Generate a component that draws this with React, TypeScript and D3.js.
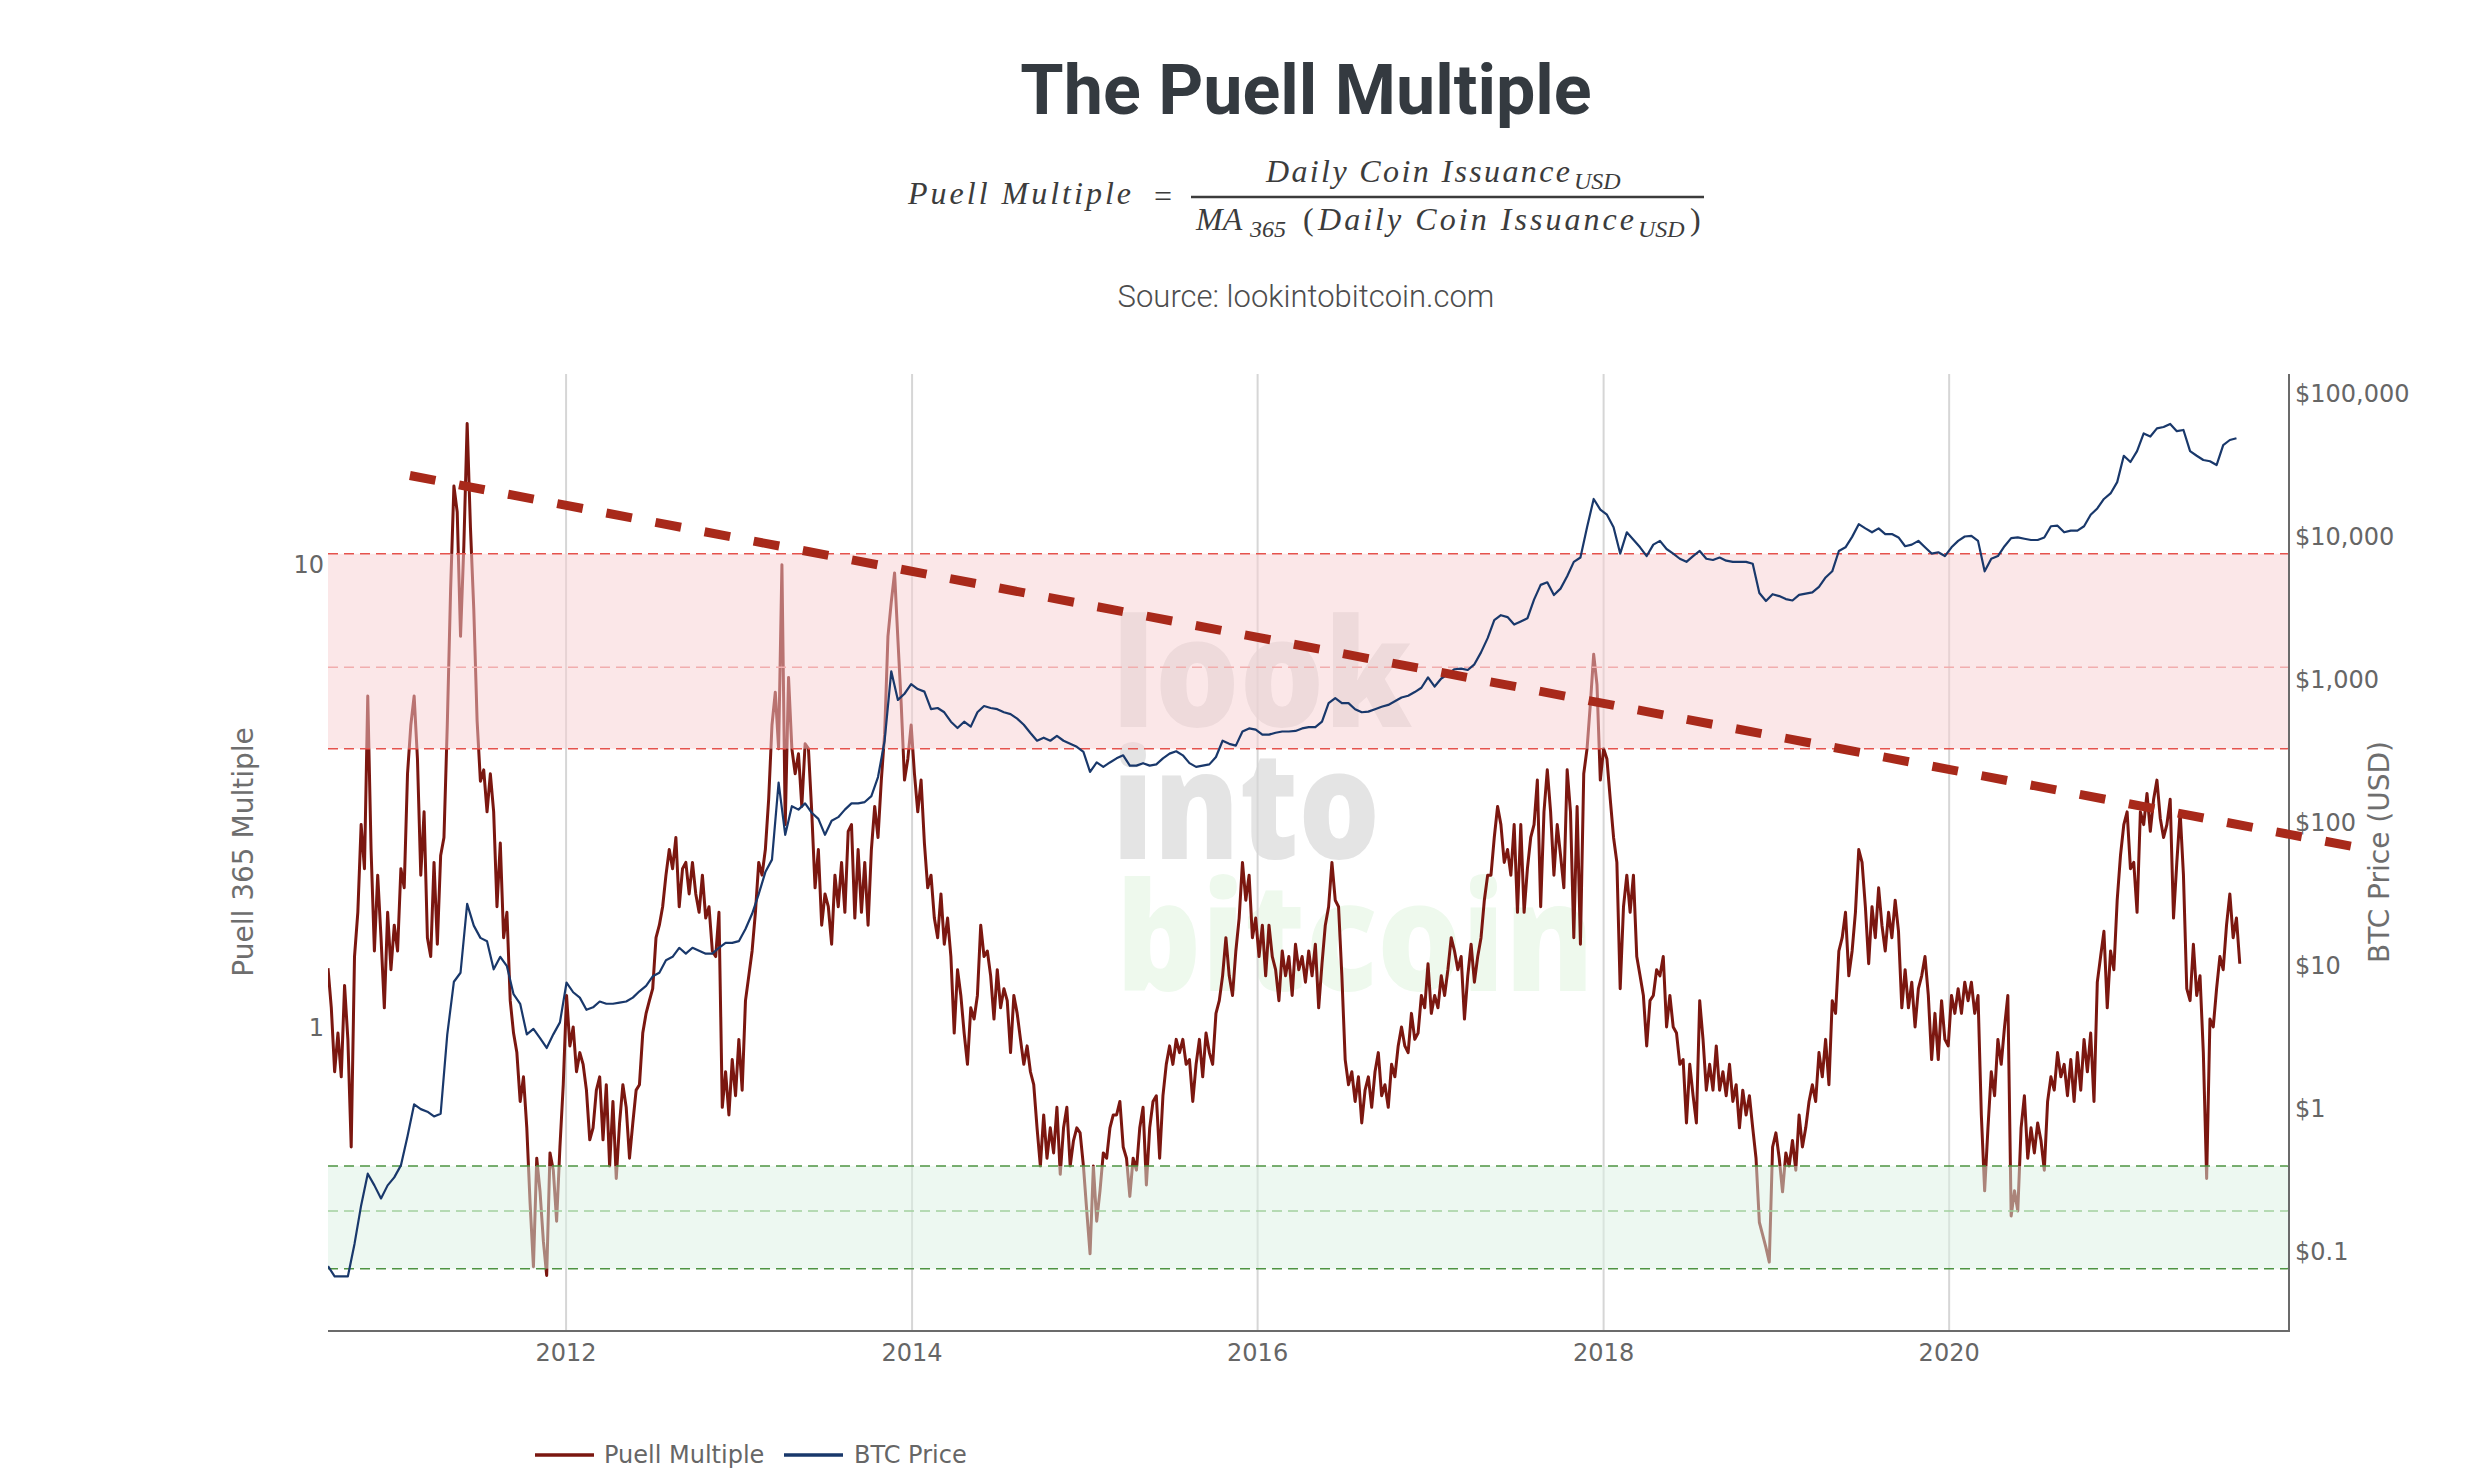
import React from "react";
import * as d3 from "d3";

// ---------------- data ----------------
const seriesStartDate = "2010-08-16";
const puellStepDays = 7; // weekly samples
const priceStepDays = 14; // bi-weekly samples

const puell2010to2013 = [
  1.34, 1.1, 0.8, 0.97, 0.78, 1.23, 0.94, 0.55, 1.42, 1.77,
  2.74, 2.2, 5.2, 2.42, 1.46, 2.13, 1.56, 1.1, 1.77, 1.33,
  1.66, 1.46, 2.2, 2.0, 3.53, 4.5, 5.2, 3.8, 2.13, 2.92,
  1.56, 1.42, 2.27, 1.51, 2.35, 2.57, 4.5, 8.8, 14.8, 13.0,
  7.0, 11.0, 20.2, 12.0, 8.0, 4.6, 3.4, 3.6, 2.92, 3.53,
  2.92, 1.82, 2.5, 1.56, 1.77, 1.14, 0.97, 0.88, 0.69, 0.78,
  0.605, 0.415, 0.303, 0.52, 0.44, 0.344, 0.29, 0.534, 0.49, 0.38,
  0.55, 0.75, 1.17, 0.91, 1.0, 0.8, 0.88, 0.83, 0.73, 0.57,
  0.605, 0.73, 0.78, 0.57, 0.75, 0.5, 0.69, 0.47, 0.62, 0.75,
  0.67, 0.52, 0.62, 0.73, 0.75, 0.97, 1.07, 1.14, 1.21, 1.56,
  1.66, 1.82, 2.13, 2.42, 2.2, 2.57, 1.82, 2.2, 2.27, 1.94,
  2.27, 1.94, 1.77, 2.13, 1.72, 1.82, 1.46, 1.42,
];
const puell2013to2015 = [
  1.77, 0.67, 0.8, 0.645, 0.85, 0.71, 0.94, 0.73, 1.14, 1.29,
  1.46, 1.77, 2.27, 2.13, 2.42, 3.11, 4.5, 5.3, 4.0, 10.0,
  2.74, 5.7, 4.0, 3.53, 3.9, 3.0, 4.1, 4.0, 2.92, 2.0,
  2.42, 1.66, 1.94, 1.82, 1.51, 2.13, 1.82, 2.27, 1.77, 2.65,
  2.74, 1.72, 2.42, 1.77, 2.27, 1.66, 2.42, 3.0, 2.57, 3.42,
  4.3, 7.0, 8.3, 9.6, 6.9, 5.0, 3.42, 3.8, 4.5, 3.53,
  2.92, 3.42, 2.5, 2.0, 2.13, 1.72, 1.56, 1.94, 1.51, 1.72,
  1.42, 0.97, 1.33, 1.17, 0.97, 0.83, 1.1, 1.04, 1.17, 1.66,
  1.42, 1.46, 1.29, 1.04, 1.33, 1.1, 1.21, 1.14, 0.88, 1.17,
  1.07, 0.94, 0.83, 0.91, 0.8, 0.75, 0.605, 0.5, 0.645, 0.52,
  0.605, 0.534, 0.67, 0.48, 0.605, 0.67, 0.5, 0.568, 0.605, 0.59,
  0.5, 0.4, 0.323, 0.5, 0.38, 0.442, 0.534, 0.52, 0.605, 0.645,
];
const puell2015to2017 = [
  0.645, 0.69, 0.55, 0.52, 0.43, 0.52, 0.49, 0.605, 0.67, 0.455,
  0.605, 0.69, 0.71, 0.52, 0.71, 0.83, 0.91, 0.83, 0.94, 0.88,
  0.94, 0.83, 0.85, 0.69, 0.83, 0.94, 0.78, 0.97, 0.88, 0.83,
  1.07, 1.14, 1.29, 1.56, 1.29, 1.17, 1.46, 1.72, 2.27, 1.88,
  2.13, 1.56, 1.72, 1.42, 1.66, 1.29, 1.66, 1.42, 1.33, 1.14,
  1.46, 1.29, 1.42, 1.17, 1.51, 1.33, 1.42, 1.25, 1.46, 1.29,
  1.51, 1.1, 1.37, 1.66, 1.82, 2.27, 1.88, 1.82, 1.29, 0.85,
  0.75, 0.8, 0.69, 0.78, 0.62, 0.73, 0.78, 0.67, 0.8, 0.88,
  0.71, 0.75, 0.67, 0.83, 0.78, 0.91, 1.0, 0.91, 0.88, 1.07,
  0.94, 0.97, 1.17, 1.1, 1.37, 1.07, 1.17, 1.1, 1.29, 1.17,
  1.33, 1.56, 1.46, 1.33, 1.42, 1.04, 1.29, 1.51, 1.25, 1.42,
  1.56, 1.88, 2.13, 2.13, 2.57, 3.0, 2.74, 2.27, 2.42, 2.13,
  2.74, 1.77,
];
const puell2017to2019 = [
  2.74, 1.77, 2.2, 2.57, 2.74, 3.42, 1.82, 2.92, 3.6, 2.92,
  2.13, 2.74, 2.35, 2.0, 3.6, 2.92, 1.56, 3.0, 1.51, 3.53,
  4.0, 5.0, 6.4, 5.5, 3.42, 4.0, 3.8, 3.11, 2.57, 2.27,
  1.21, 1.82, 2.13, 1.77, 2.13, 1.42, 1.29, 1.17, 0.91, 1.14,
  1.17, 1.33, 1.29, 1.42, 1.0, 1.17, 1.0, 0.97, 0.83, 0.85,
  0.62, 0.83, 0.71, 0.62, 1.14, 0.94, 0.73, 0.83, 0.73, 0.91,
  0.73, 0.8, 0.71, 0.83, 0.69, 0.75, 0.605, 0.73, 0.645, 0.71,
  0.605, 0.52, 0.378, 0.355, 0.333, 0.31, 0.55, 0.59, 0.52, 0.44,
  0.534, 0.5, 0.568, 0.49, 0.645, 0.55, 0.605, 0.69, 0.75, 0.69,
  0.88, 0.78, 0.94, 0.75, 1.14, 1.07, 1.46, 1.56, 1.77, 1.29,
  1.46, 1.77, 2.42, 2.27, 1.82, 1.37, 1.82, 1.56, 2.0, 1.66,
  1.46, 1.77, 1.56, 1.88, 1.61, 1.1, 1.33, 1.1, 1.25, 1.0,
];
const puell2019to2021 = [
  1.21, 1.29, 1.42, 1.17, 0.85, 1.07, 0.85, 1.14, 0.94, 0.91,
  1.17, 1.07, 1.21, 1.07, 1.25, 1.14, 1.25, 1.07, 1.17, 0.645,
  0.442, 0.605, 0.8, 0.71, 0.94, 0.83, 1.0, 1.17, 0.39, 0.442,
  0.4, 0.605, 0.71, 0.52, 0.605, 0.534, 0.62, 0.568, 0.49, 0.69,
  0.78, 0.73, 0.88, 0.78, 0.83, 0.71, 0.85, 0.69, 0.88, 0.73,
  0.94, 0.8, 0.97, 0.69, 1.25, 1.42, 1.61, 1.1, 1.46, 1.33,
  1.88, 2.35, 2.74, 2.92, 2.2, 2.27, 1.77, 2.92, 2.74, 3.2,
  2.65, 3.11, 3.42, 2.83, 2.57, 2.74, 3.11, 1.72, 2.27, 2.92,
  2.13, 1.21, 1.14, 1.51, 1.17, 1.29, 0.88, 0.47, 1.04, 1.0,
  1.21, 1.42, 1.33, 1.66, 1.94, 1.56, 1.72, 1.37,
];

const btc2010to2013 = [
  0.079, 0.067, 0.067, 0.067, 0.113, 0.21, 0.35, 0.29, 0.235, 0.29,
  0.33, 0.4, 0.64, 1.07, 0.99, 0.95, 0.88, 0.92, 3.3, 7.7,
  8.9, 27, 19, 15.6, 14.8, 9.4, 11.5, 9.9, 6.3, 5.4,
  3.3, 3.6, 3.1, 2.65, 3.3, 4.0, 7.6, 6.5, 5.96, 4.9,
  5.1, 5.6, 5.4, 5.4, 5.5, 5.6, 5.96, 6.6, 7.2, 8.4,
  8.9, 10.9, 11.5, 13.3, 12.1, 13.3, 12.7, 12.1, 12.1,
];
const btc2013to2015 = [
  13.3, 14.4, 14.4, 14.8, 18, 23, 31.6, 45, 55, 190,
  82, 130, 123, 136, 117, 106, 82, 103, 109, 123,
  136, 136, 139, 153, 208, 373, 1140, 720, 795, 927,
  857, 823, 620, 632, 590, 507, 458, 507, 468, 590,
  652, 632, 620, 590, 573, 533, 483, 423, 373, 392,
  373, 404, 373, 355, 338, 312, 226, 263, 245, 263,
];
const btc2015to2017 = [
  281, 295, 250, 250, 260, 250, 255, 281, 303, 315,
  295, 260, 245, 250, 255, 287, 373, 355, 345, 433,
  455, 446, 412, 412, 424, 433, 433, 437, 455, 464,
  464, 507, 683, 740, 683, 683, 620, 590, 596, 620,
  645, 664, 704, 748, 770, 817, 876, 1036, 893, 1016,
  1089, 1180, 1190, 1166, 1277, 1547, 1946, 2597, 2817, 2732,
  2422,
];
const btc2017to2019 = [
  2546, 2680, 3620, 4590, 4780, 3900, 4320, 5280, 6650, 7130,
  11600, 18300, 15400, 14200, 11600, 7600, 10700, 9500, 8400, 7300,
  8780, 9320, 8180, 7600, 6990, 6650, 7300, 7920, 6990, 6850,
  7130, 6780, 6650, 6650, 6650, 6450, 4030, 3540, 3950, 3830,
  3650, 3570, 3910, 3990, 4070, 4450, 5170, 5710, 7920, 8400,
  9940, 12200, 11400, 10700, 11400, 10400, 10400, 9850, 8550, 8780,
];
const btc2019to2021 = [
  9320, 8400, 7600, 7760, 7300, 8400, 9320, 10000, 10100, 9320,
  5710, 6990, 7300, 8550, 9750, 9850, 9650, 9450, 9450, 9850,
  11800, 11900, 10700, 11000, 11000, 11800, 14200, 15700, 18300, 20000,
  24000, 36700, 33200, 39500, 52600, 50000, 57000, 58300, 61300, 54500,
  55600, 39500, 36700, 34300, 33600, 31600, 43600, 47300, 48700,
];

const puellValues = [
  ...puell2010to2013,
  ...puell2013to2015,
  ...puell2015to2017,
  ...puell2017to2019,
  ...puell2019to2021,
];
const btcValues = [
  ...btc2010to2013,
  ...btc2013to2015,
  ...btc2015to2017,
  ...btc2017to2019,
  ...btc2019to2021,
];

const xDomainDates = ["2010-08-16", "2021-12-19"];
const xTickYears = [2012, 2014, 2016, 2018, 2020];
const puellDomain = [0.2199, 25.86];
const puellTicks = [1, 10];
const priceDomain = [0.0278, 136900];
const priceTicks = [0.1, 1, 10, 100, 1000, 10000, 100000];
const overvaluedBand = [4, 6, 10.56]; // bottom, middle, top
const undervaluedBand = [0.3, 0.4, 0.5];
const trendDates = ["2011-02-05", "2022-05-18"];
const trendValues = [15.6, 2.44];
const legendNames = ["Puell Multiple", "BTC Price"];
const watermarkWords = ["look", "into", "bitcoin"];

// ---------------- chart ----------------
const W = 2490;
const H = 1484;
const L = 328;
const R = 2289;
const T = 374;
const B = 1331;

const PUELL_COLOR = "#7b1710";
const BTC_COLOR = "#19386b";
const TREND_COLOR = "#a8291a";
const AXIS_FONT = "'DejaVu Sans', Verdana, sans-serif";
const TICK_COLOR = "#666666";

const parse = (s: string) => new Date(s + "T00:00:00Z");
const DAY = 86400000;

export default function App() {
  const x = d3.scaleUtc().domain(xDomainDates.map(parse)).range([L, R]);
  const yP = d3.scaleLog().domain(puellDomain).range([B, T]);
  const yB = d3.scaleLog().domain(priceDomain).range([B, T]);

  const start = parse(seriesStartDate).getTime();
  const puellData = puellValues.map((v, i) => ({ date: new Date(start + i * puellStepDays * DAY), v }));
  const btcData = btcValues.map((v, i) => ({ date: new Date(start + i * priceStepDays * DAY), v }));

  const puellLine = d3
    .line<{ date: Date; v: number }>()
    .x((d) => x(d.date))
    .y((d) => yP(d.v))(puellData) as string;
  const btcLine = d3
    .line<{ date: Date; v: number }>()
    .x((d) => x(d.date))
    .y((d) => yB(d.v))(btcData) as string;
  const trendPts = trendDates.map((d, i) => [x(parse(d)), yP(trendValues[i])] as [number, number]);
  const trendLine = d3.line()(trendPts) as string;

  const fmtPrice = (v: number) => (v >= 1 ? "$" + d3.format(",")(v) : "$" + v);

  const band = (vals: number[], fill: string, edge: string, mid: string) => {
    const [lo, md, hi] = vals;
    return (
      <g>
        <rect x={L} y={yP(hi)} width={R - L} height={yP(lo) - yP(hi)} fill={fill} opacity={0.5} />
        <line x1={L} x2={R} y1={yP(hi)} y2={yP(hi)} stroke={edge} strokeWidth={1.5} strokeDasharray="10 6" />
        <line x1={L} x2={R} y1={yP(md)} y2={yP(md)} stroke={mid} strokeWidth={1.5} strokeDasharray="10 6" />
        <line x1={L} x2={R} y1={yP(lo)} y2={yP(lo)} stroke={edge} strokeWidth={1.5} strokeDasharray="10 6" />
      </g>
    );
  };

  const serif = "'Liberation Serif', 'DejaVu Serif', serif";
  const fColor = "#3c3c3c";

  return (
    <svg
      width={W}
      height={H}
      viewBox={`0 0 ${W} ${H}`}
      style={{ position: "absolute", left: 0, top: 0, display: "block", background: "#ffffff" }}
    >
      <defs>
        <clipPath id="plotClip">
          <rect x={L} y={T} width={R - L} height={B - T} />
        </clipPath>
      </defs>
      <rect x={0} y={0} width={W} height={H} fill="#ffffff" />

      {/* Title */}
      <text x={1306} y={114} textAnchor="middle" fontFamily="Roboto, sans-serif" fontWeight={700} fontSize={70} fill="#343a40">
        The Puell Multiple
      </text>

      {/* Formula */}
      <g fill={fColor} fontFamily={serif} fontStyle="italic">
        <text x={908} y={204} fontSize={32} textLength={223} lengthAdjust="spacing">Puell Multiple</text>
        <text x={1163} y={207} fontSize={32} fontStyle="normal" textAnchor="middle">=</text>
        <line x1={1191} x2={1704} y1={197} y2={197} stroke={fColor} strokeWidth={2.6} />
        <text x={1266} y={182} fontSize={32} textLength={304} lengthAdjust="spacing">Daily Coin Issuance</text>
        <text x={1574} y={189} fontSize={24}>USD</text>
        <text x={1196} y={230} fontSize={32}>MA</text>
        <text x={1250} y={237} fontSize={24}>365</text>
        <text x={1303} y={230} fontSize={32} fontStyle="normal">(</text>
        <text x={1318} y={230} fontSize={32} textLength={316} lengthAdjust="spacing">Daily Coin Issuance</text>
        <text x={1638} y={237} fontSize={24}>USD</text>
        <text x={1690} y={230} fontSize={32} fontStyle="normal">)</text>
      </g>

      {/* Source */}
      <text x={1306} y={307} textAnchor="middle" fontFamily="Roboto, sans-serif" fontWeight={300} fontSize={31} fill="#4d4d4d">
        Source: lookintobitcoin.com
      </text>

      {/* Watermark (one text block, three lines) */}
      <text fontFamily="'Open Sans', sans-serif" fontWeight={800} fontSize={150}>
        <tspan x={1112} y={727} fill="#e4e4e4" textLength={300} lengthAdjust="spacingAndGlyphs">
          {watermarkWords[0]}
        </tspan>
        <tspan x={1112} y={859} fill="#e4e4e4" textLength={268} lengthAdjust="spacingAndGlyphs">
          {watermarkWords[1]}
        </tspan>
        <tspan x={1116} y={991} fill="#eef9ed" textLength={478} lengthAdjust="spacingAndGlyphs">
          {watermarkWords[2]}
        </tspan>
      </text>

      {/* Vertical grid lines */}
      {xTickYears.map((yr) => {
        const gx = x(parse(`${yr}-01-01`));
        return <line key={yr} x1={gx} x2={gx} y1={T} y2={B} stroke="#d6d6d6" strokeWidth={2} />;
      })}

      {/* Puell multiple */}
      <path d={puellLine} fill="none" stroke={PUELL_COLOR} strokeWidth={3} strokeLinejoin="round" clipPath="url(#plotClip)" />

      {/* Bands */}
      {band(overvaluedBand, "rgb(247,207,209)", "#e5534d", "#f1aeae")}
      {band(undervaluedBand, "rgb(219,241,227)", "#4e9442", "#a3cf9e")}

      {/* BTC price */}
      <path d={btcLine} fill="none" stroke={BTC_COLOR} strokeWidth={2.2} strokeLinejoin="round" clipPath="url(#plotClip)" />

      {/* Axes */}
      <line x1={L} x2={R + 1} y1={B} y2={B} stroke="#6b6b6b" strokeWidth={2} />
      <line x1={R} x2={R} y1={T} y2={B + 1} stroke="#6b6b6b" strokeWidth={2} />

      {/* Trend line */}
      <path d={trendLine} fill="none" stroke={TREND_COLOR} strokeWidth={9} strokeDasharray="26 24" />

      {/* X tick labels */}
      <g fontFamily={AXIS_FONT} fontSize={24} fill={TICK_COLOR} textAnchor="middle">
        {xTickYears.map((yr) => (
          <text key={yr} x={x(parse(`${yr}-01-01`))} y={1361}>
            {yr}
          </text>
        ))}
      </g>

      {/* Left tick labels */}
      <g fontFamily={AXIS_FONT} fontSize={24} fill={TICK_COLOR} textAnchor="end">
        {puellTicks.map((v) => (
          <text key={v} x={324} y={yP(v) + 8.6}>
            {v}
          </text>
        ))}
      </g>

      {/* Right tick labels */}
      <g fontFamily={AXIS_FONT} fontSize={24} fill={TICK_COLOR} textAnchor="start">
        {priceTicks.map((v) => (
          <text key={v} x={2295} y={yB(v) + 8.6}>
            {fmtPrice(v)}
          </text>
        ))}
      </g>

      {/* Axis titles */}
      <text
        transform={`translate(253,852) rotate(-90)`}
        textAnchor="middle"
        fontFamily={AXIS_FONT}
        fontSize={28}
        fill="#6e6e6e"
      >
        Puell 365 Multiple
      </text>
      <text
        transform={`translate(2389,852) rotate(-90)`}
        textAnchor="middle"
        fontFamily={AXIS_FONT}
        fontSize={28}
        fill="#6e6e6e"
      >
        BTC Price (USD)
      </text>

      {/* Legend */}
      <g fontFamily={AXIS_FONT} fontSize={24} fill={TICK_COLOR}>
        <line x1={535} x2={594} y1={1455} y2={1455} stroke={PUELL_COLOR} strokeWidth={3.5} />
        <text x={604} y={1463}>{legendNames[0]}</text>
        <line x1={784} x2={843} y1={1455} y2={1455} stroke={BTC_COLOR} strokeWidth={3.5} />
        <text x={854} y={1463}>{legendNames[1]}</text>
      </g>
    </svg>
  );
}
